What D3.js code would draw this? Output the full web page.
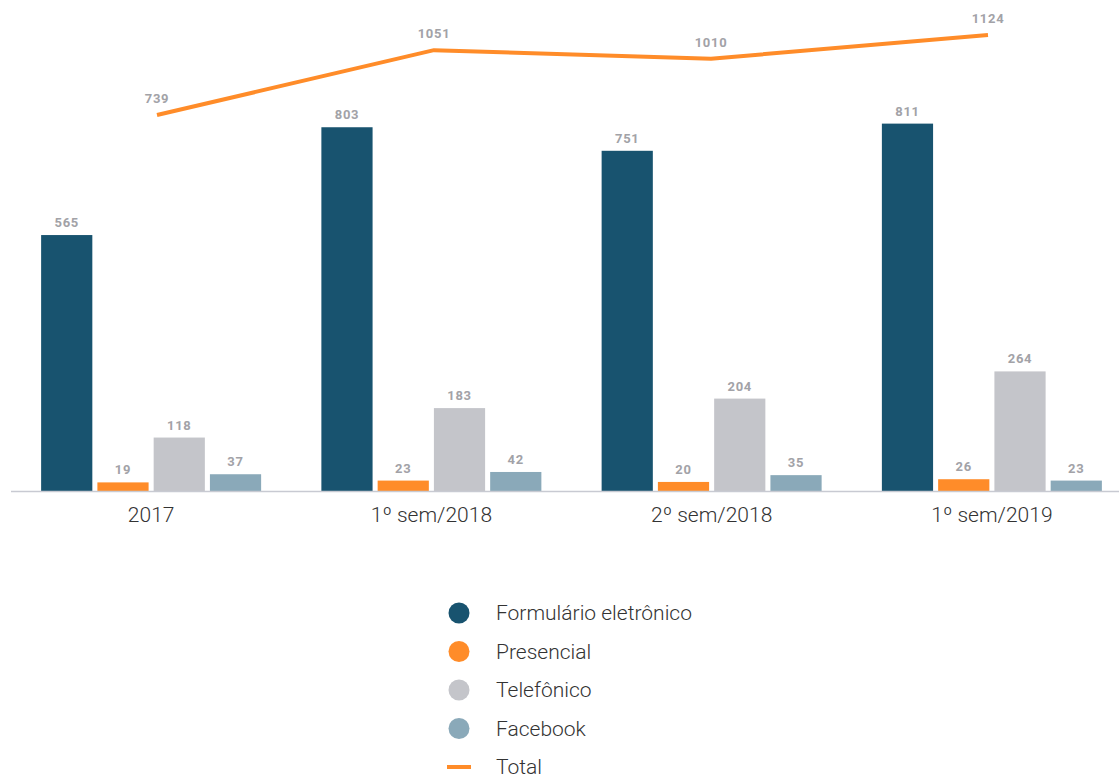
<!DOCTYPE html>
<html>
<head>
<meta charset="utf-8">
<script src="https://cdn.jsdelivr.net/npm/d3@7"></script>
<style>
  html, body { margin: 0; padding: 0; background: #ffffff; }
  svg { display: block; font-family: Roboto, "Noto Sans", sans-serif; }
</style>
</head>
<body>
<svg id="chart" width="1119" height="776"></svg>
<script>
// Periods and channels
const periods = ["2017", "1º sem/2018", "2º sem/2018", "1º sem/2019"];
const channels = ["Formulário eletrônico", "Presencial", "Telefônico", "Facebook"];
const channelColors = ["#18536f", "#ff8c29", "#c4c5ca", "#8aa9b9"];

// Requests per channel and period
const formulario = [565, 803, 751, 811];
const presencial = [19, 23, 20, 26];
const telefonico = [118, 183, 204, 264];
const facebook = [37, 42, 35, 23];
const total = [739, 1051, 1010, 1124];

const totalLabel = "Total";
const totalColor = "#ff8c29";

const seriesValues = [formulario, presencial, telefonico, facebook];

const W = 1119, H = 776;
const baseY = 491;
const svg = d3.select("#chart");

// Grouped bar scales
const x0 = d3.scaleBand().domain(periods).range([11, 1132]).paddingInner(0.215).paddingOuter(0.1075);
const x1 = d3.scaleBand().domain(channels).range([0, x0.bandwidth()]).paddingInner(0.09).paddingOuter(0);
const y = d3.scaleLinear().domain([0, 1000]).range([baseY, 38]);

// Secondary scale for the total line
const xLine = d3.scalePoint().domain(periods).range([157, 988]);
const yLine = d3.scaleLinear().domain([0, 1200]).range([268.6, 19.2]);

// Bars
const groups = svg.append("g").selectAll("g")
  .data(periods)
  .join("g")
  .attr("transform", d => `translate(${x0(d)},0)`);

groups.each(function(p, pi) {
  const g = d3.select(this);
  const rows = channels.map((c, ci) => ({ c, ci, v: seriesValues[ci][pi] }));
  g.selectAll("rect")
    .data(rows)
    .join("rect")
    .attr("x", d => x1(d.c))
    .attr("width", x1.bandwidth())
    .attr("y", d => y(d.v))
    .attr("height", d => baseY - y(d.v))
    .attr("fill", d => channelColors[d.ci]);
  g.selectAll("text")
    .data(rows)
    .join("text")
    .attr("x", d => x1(d.c) + x1.bandwidth() / 2)
    .attr("y", d => y(d.v) - 8)
    .attr("text-anchor", "middle")
    .attr("font-size", 13)
    .attr("font-weight", 700)
    .attr("letter-spacing", 0.7)
    .attr("fill", "#a2a2a7")
    .text(d => d.v);
});

// Baseline axis
const xAxis = d3.axisBottom(x0).tickSize(0).tickPadding(16);
const axisG = svg.append("g").attr("transform", `translate(0,${baseY})`).call(xAxis);
axisG.select(".domain").remove();
axisG.selectAll("text")
  .attr("font-size", 21)
  .attr("font-weight", 300)
  .attr("fill", "#333333")
  .attr("font-family", "Roboto, sans-serif");
svg.append("line")
  .attr("x1", 11).attr("x2", W)
  .attr("y1", baseY + 0.5).attr("y2", baseY + 0.5)
  .attr("stroke", "#c8cad2")
  .attr("stroke-width", 1.5);

// Total line
const line = d3.line().x((d, i) => xLine(periods[i])).y(d => yLine(d));
svg.append("path")
  .datum(total)
  .attr("d", line)
  .attr("fill", "none")
  .attr("stroke", totalColor)
  .attr("stroke-width", 4)
  .attr("stroke-linejoin", "round");

svg.append("g").selectAll("text")
  .data(total)
  .join("text")
  .attr("x", (d, i) => xLine(periods[i]))
  .attr("y", d => yLine(d) - 12)
  .attr("text-anchor", "middle")
  .attr("font-size", 13)
  .attr("font-weight", 700)
  .attr("letter-spacing", 0.7)
  .attr("fill", "#a2a2a7")
  .text(d => d);

// Legend
const legendItems = channels.map((c, i) => ({ label: c, color: channelColors[i], type: "dot" }))
  .concat([{ label: totalLabel, color: totalColor, type: "line" }]);
const legend = svg.append("g").attr("transform", "translate(459,613)");
const li = legend.selectAll("g")
  .data(legendItems)
  .join("g")
  .attr("transform", (d, i) => `translate(0,${i * 38.5})`);
li.filter(d => d.type === "dot").append("circle")
  .attr("r", 10.5)
  .attr("fill", d => d.color);
li.filter(d => d.type === "line").append("line")
  .attr("x1", -12).attr("x2", 12)
  .attr("y1", 0).attr("y2", 0)
  .attr("stroke", d => d.color)
  .attr("stroke-width", 4);
li.append("text")
  .attr("x", 37)
  .attr("dy", "0.35em")
  .attr("font-size", 21)
  .attr("font-weight", 300)
  .attr("fill", "#333333")
  .text(d => d.label);
</script>
</body>
</html>
